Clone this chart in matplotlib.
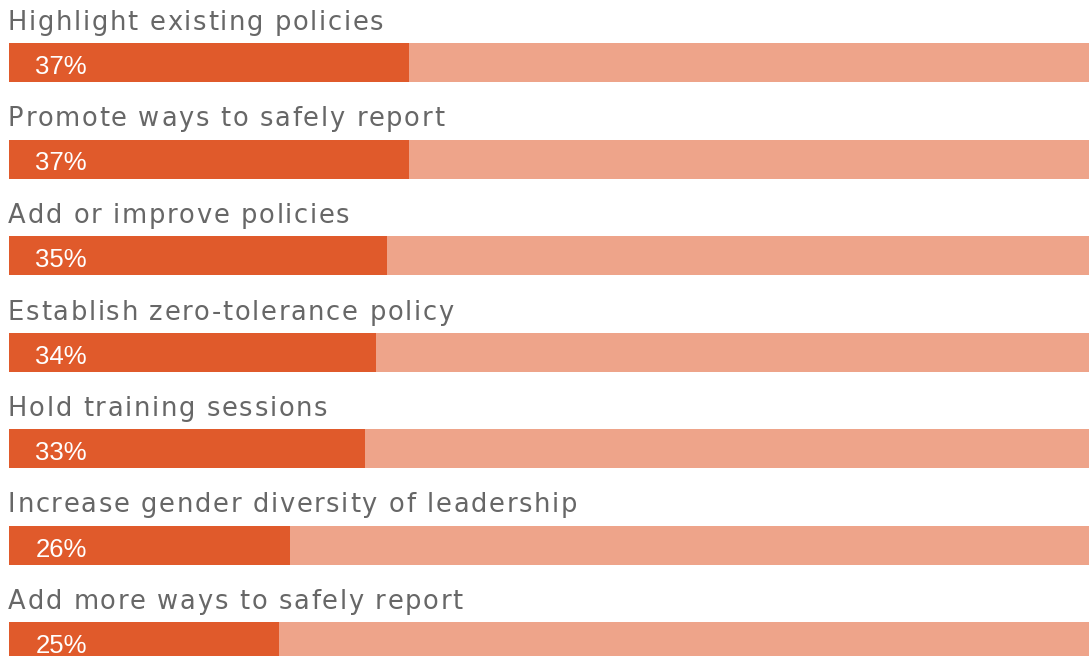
import matplotlib
matplotlib.use("Agg")
import matplotlib.pyplot as plt
from matplotlib.font_manager import FontProperties, findfont, get_font
from matplotlib.transforms import offset_copy

categories = [
    "Highlight existing policies",
    "Promote ways to safely report",
    "Add or improve policies",
    "Establish zero-tolerance policy",
    "Hold training sessions",
    "Increase gender diversity of leadership",
    "Add more ways to safely report",
]
shares = [37, 37, 35, 34, 33, 26, 25]

DARK = "#E05A2B"
LIGHT = "#EEA48A"
GREY = "#676767"

W, H = 1089, 656
DPI = 100
fig = plt.figure(figsize=(W / DPI, H / DPI), dpi=DPI)
left_px = 9
ax = fig.add_axes([left_px / W, 0, 1 - left_px / W, 1])

row_px = 96.5          # vertical pitch between rows, pixels
first_px = 62.5        # centre of first bar, pixels
ax.set_xlim(0, 100)
ax.set_ylim((H - first_px) / row_px, -first_px / row_px)
ax.axis("off")

# Category labels: wide sans with a little extra letter spacing.
LABEL_FAMILY = "DejaVu Sans"
LABEL_SIZE = 18.5
TRACKING_PX = 1.7
_prop = FontProperties(family=LABEL_FAMILY)
_font_file = findfont(_prop)


def advances(s):
    font = get_font(_font_file)
    font.set_size(LABEL_SIZE, DPI)
    return [font.load_char(ord(ch)).linearHoriAdvance / 65536 for ch in s]


def tracked_text(x, y, s, **kw):
    """Draw a string letter by letter with extra spacing between glyphs."""
    dx = 0.0
    for ch, adv in zip(s, advances(s)):
        if ch != " ":
            tr = offset_copy(ax.transData, fig=fig, x=dx, y=0, units="dots")
            ax.text(x, y, ch, transform=tr, ha="left", va="baseline",
                    fontsize=LABEL_SIZE, family=LABEL_FAMILY, **kw)
        dx += adv + TRACKING_PX


bar_h = 39 / row_px
px = 1 / row_px
for i, (cat, v) in enumerate(zip(categories, shares)):
    ax.barh(i, 100, height=bar_h, color=LIGHT, linewidth=0)
    ax.barh(i, v, height=bar_h, color=DARK, linewidth=0)
    tracked_text(-0.1, i - 32.5 * px, cat, color=GREY)
    ax.text(2.45, i + 11.5 * px, f"{v}%", ha="left", va="baseline",
            fontsize=18.5, color="white", family="Liberation Sans")

fig.savefig("out.png", dpi=DPI)
